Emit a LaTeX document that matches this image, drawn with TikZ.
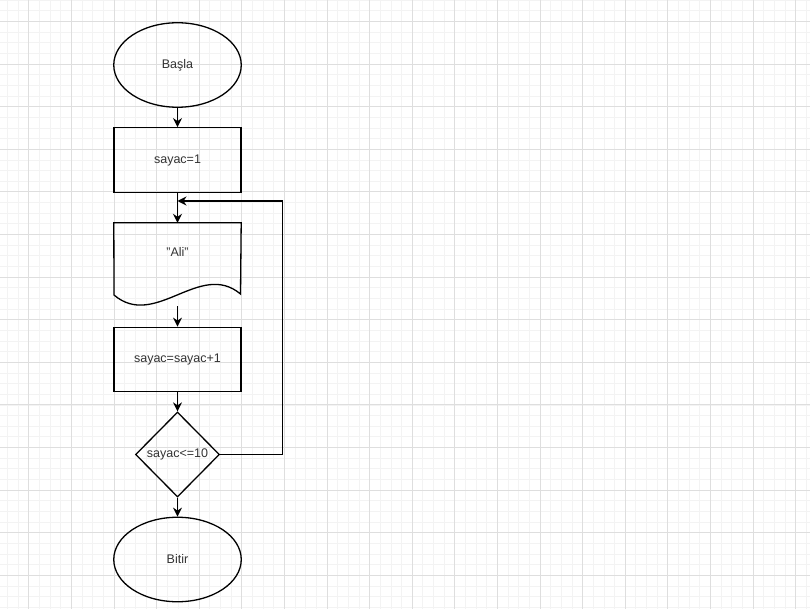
\documentclass[tikz,border=0pt]{standalone}
\usepackage{fontspec}
\setmainfont{Liberation Sans}
\usetikzlibrary{shapes.geometric,arrows.meta}
\definecolor{MINORGRID}{HTML}{F3F3F3}
\definecolor{MAJORGRID}{HTML}{DEDEDE}
\definecolor{LABEL}{HTML}{333333}

\begin{document}
\begin{tikzpicture}[x=1pt, y=-1pt,
	every node/.style={text=LABEL, font=\fontsize{12.5}{15}\selectfont, inner sep=0pt},
	terminal/.style={draw, ellipse, line width=1.3pt, minimum width=127.5, minimum height=84.5},
	process/.style={draw, rectangle, line width=1.3pt, minimum width=127, minimum height=64.5},
	decision/.style={draw, diamond, line width=1.3pt, minimum width=84, minimum height=85},
	docbox/.style={rectangle, minimum width=127, minimum height=83},
	flow/.style={line width=1.2pt, -{Stealth[length=9pt,width=9pt,inset=3pt]}},
	minorline/.style={MINORGRID, line width=0.8pt},
	majorline/.style={MAJORGRID, line width=1pt}]
				\useasboundingbox [fill=white] (0,0) rectangle (810,609);

				\foreach \i in {0,...,80} \draw[minorline] ({-13.8+\i*10.65},0) -- ++(0,609);
				\foreach \i in {0,...,62} \draw[minorline] (0,{-21.1+\i*10.65}) -- ++(810,0);
				\foreach \i in {0,...,19} \draw[majorline] ({28.8+\i*42.6},0) -- ++(0,609);
				\foreach \i in {0,...,14} \draw[majorline] (0,{21.5+\i*42.6}) -- ++(810,0);

				\node [terminal] (basla)  at (177.5,65)    {Başla};
				\node [process]  (sayac)  at (177.5,160)   {sayac=1};
				\node [docbox]   (ali)    at (177.5,264.5) {};
				\node []         (alitxt) at (177.5,252)   {"Ali"};
				\node [process]  (artir)  at (177.5,359.5) {sayac=sayac+1};
				\node [decision] (kosul)  at (177.5,454.5) {sayac<=10};
				\node [terminal] (bitir)  at (177.5,559.5) {Bitir};

				\draw [line width=1.3pt] (ali.north west) -- (ali.north east) -- (240.5,294)
					.. controls (200,260) and (155,330) .. (114,295) -- cycle;

				\coordinate (donus) at (282.5,201);
				\coordinate (birles) at (177.5,201);

				\draw [flow] (basla) -- (sayac);
				\draw [flow] (sayac) -- (ali);
				\draw [flow] (ali.south) -- (artir);
				\draw [flow] (artir) -- (kosul);
				\draw [flow] (kosul) -- (bitir);
				\draw [flow] (kosul.east) -| (donus) -- (birles);
			\end{tikzpicture}
\end{document}
